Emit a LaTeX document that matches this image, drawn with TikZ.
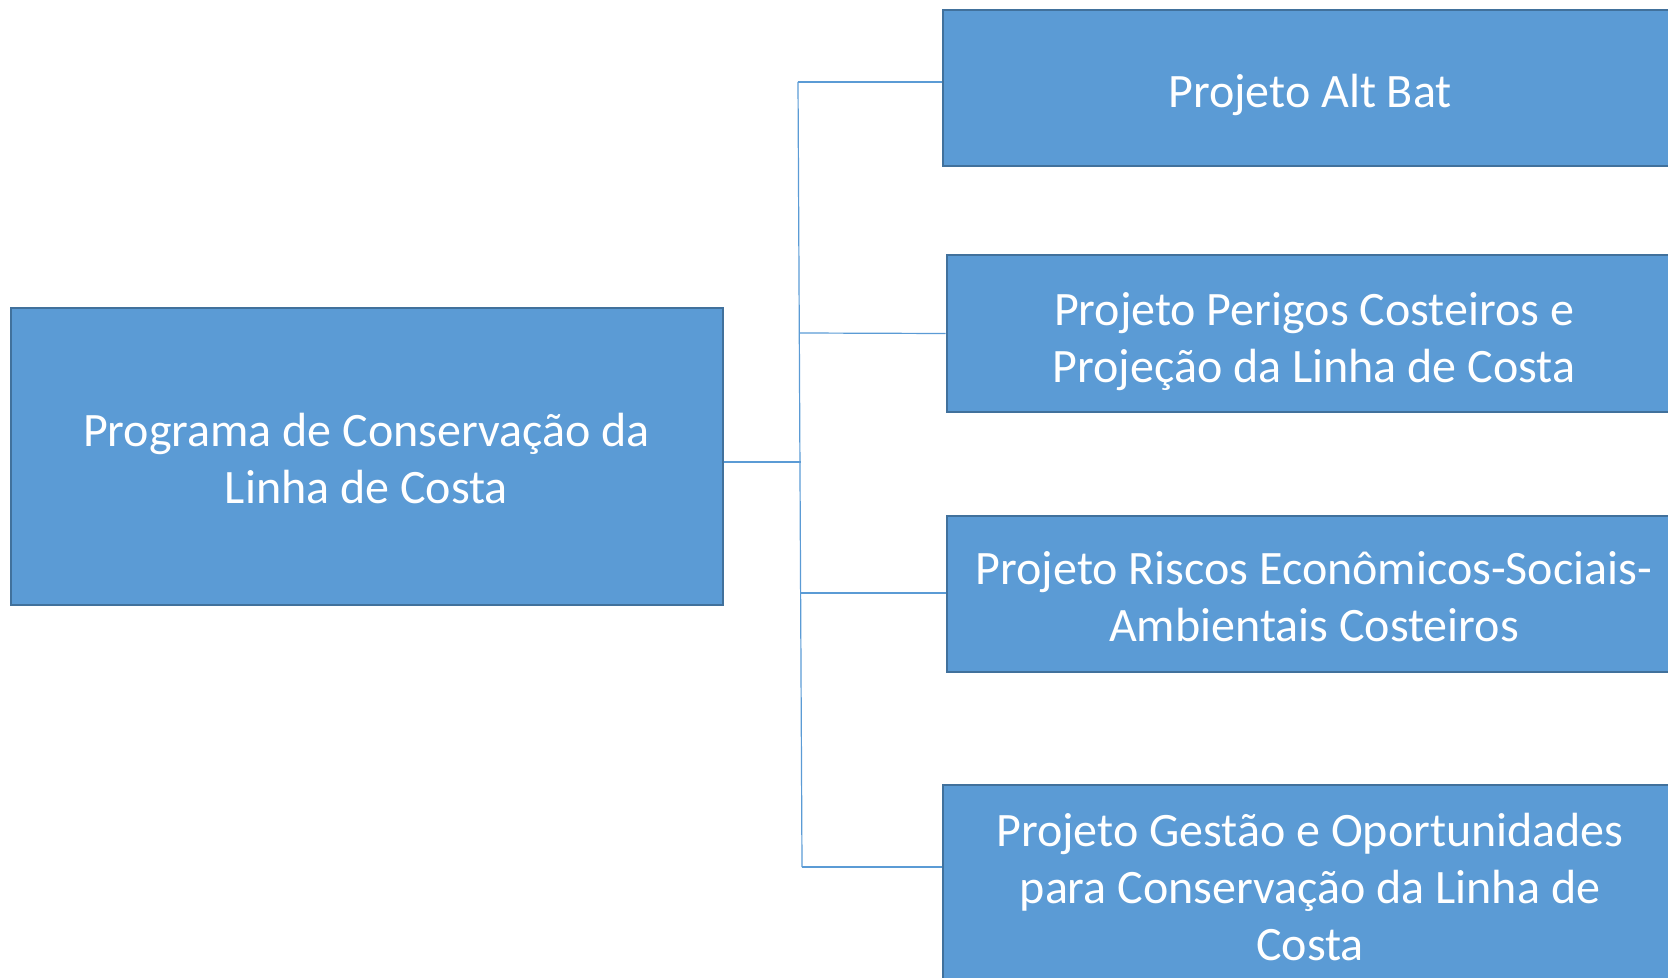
\documentclass[tikz,border=0pt]{standalone}
\usepackage{fontspec}
\setmainfont{Carlito}
\definecolor{boxblue}{HTML}{5B9BD5}
\definecolor{boxedge}{HTML}{41719C}
\tikzset{
  prog/.style={draw=boxedge, line width=1pt, fill=boxblue, text=white,
    align=center, inner sep=0pt, font=\fontsize{24}{28.6}\selectfont},
  proj/.style={prog, minimum width=367.5pt, minimum height=78.2pt},
  link/.style={draw=boxblue, line width=0.6pt}
}
\begin{document}
\begin{tikzpicture}[x=0.5pt, y=-0.5pt]
    \useasboundingbox (0,0) rectangle (1668,978);
    \clip (0,0) rectangle (1668,978);
    % Nodes with manual coordinates
    \node[prog, minimum width=356pt, minimum height=148.5pt, text height=47.5pt] (prog) at (366.5,456.5) {Programa de Conservação da\\Linha de Costa};
    \node[proj, text height=24pt] (alt) at (1310,88) {Projeto Alt Bat};
    \node[proj, text height=53pt] (perigos) at (1314,333.5) {Projeto Perigos Costeiros e\\Projeção da Linha de Costa};
    \node[proj, text height=48pt] (riscos) at (1314,594) {Projeto Riscos Econômicos-Sociais-\\Ambientais Costeiros};
    \node[proj, minimum height=102pt] (gestao) at (1310,887) {Projeto Gestão e Oportunidades\\para Conservação da Linha de\\Costa};

    % Trunk
    \coordinate (top) at (798,82);
    \coordinate (bot) at (802,867);
    \coordinate (j) at (801,462);

    % Edges
    \draw[link] (top) -- (bot);
    \draw[link] (prog.east |- j) -- (j);
    \draw[link] (top) -- (top -| alt.west);
    \draw[link] (799.5,333) -- (perigos.west);
    \draw[link] (801,593) -- (riscos.west |- 0,593);
    \draw[link] (bot) -- (bot -| gestao.west);
\end{tikzpicture}
\end{document}
